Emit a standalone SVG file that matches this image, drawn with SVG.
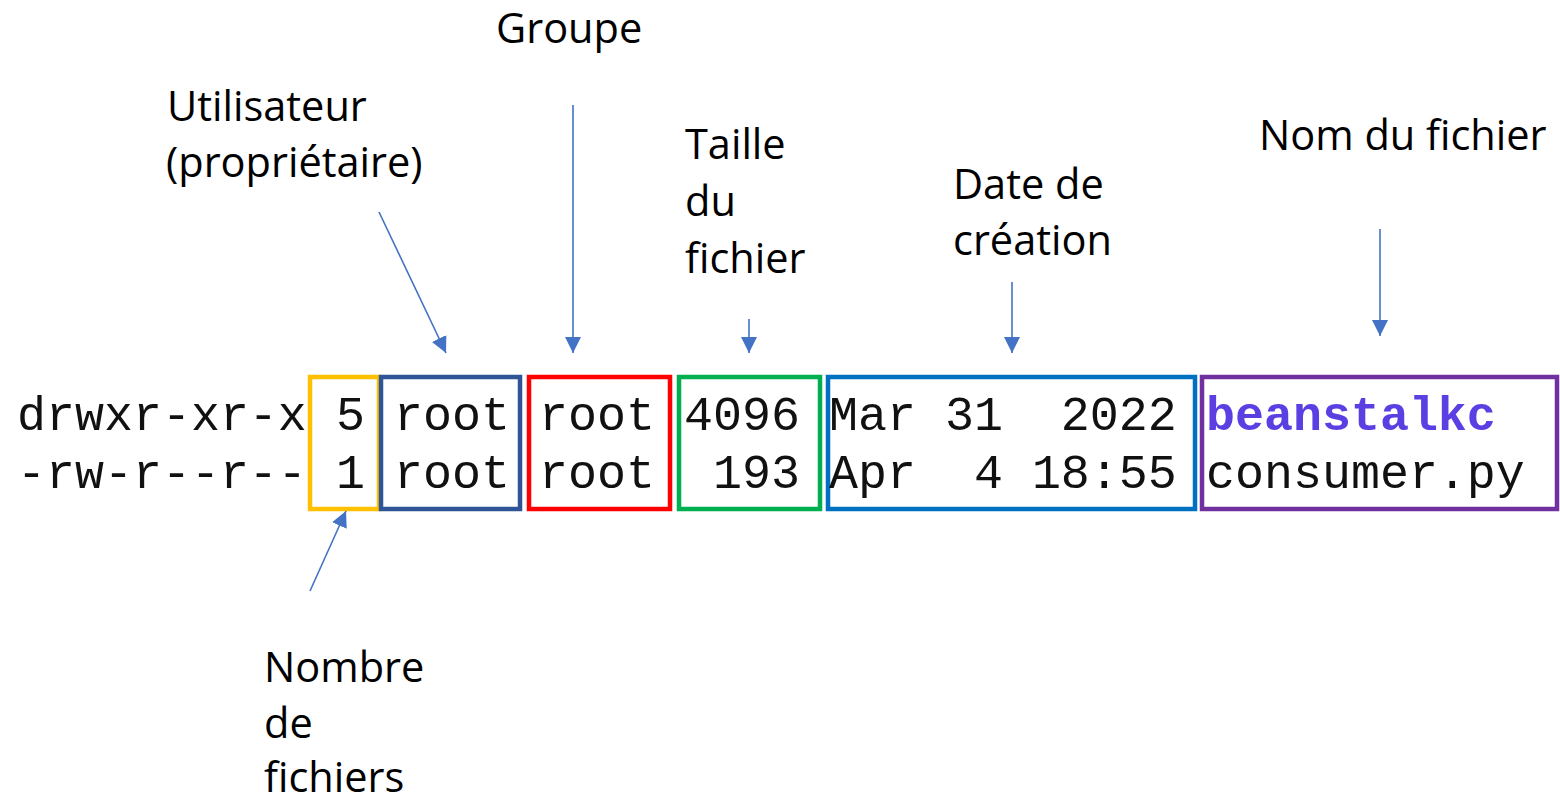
<svg xmlns="http://www.w3.org/2000/svg" width="1560" height="802" viewBox="0 0 1560 802">
  <style>
    .mono { font-family: "Liberation Mono", "DejaVu Sans Mono", monospace; font-size: 48.3px; fill: #111; }
    .label { font-family: "Open Sans", "Noto Sans", sans-serif; font-size: 41.5px; fill: #000; }
    .box { fill: none; stroke-width: 4.5; }
    .conn { stroke: #4472C4; stroke-width: 1.6; fill: none; marker-end: url(#arrow); }
  </style>
  <defs>
    <marker id="arrow" viewBox="0 0 10 10" refX="10" refY="5" markerWidth="16" markerHeight="16" orient="auto" markerUnits="userSpaceOnUse">
      <path d="M0,0 L10,5 L0,10 z" fill="#4472C4"/>
    </marker>
  </defs>
  <rect width="1560" height="802" fill="#ffffff"/>

  <!-- permissions column (no frame) -->
  <g id="permissions">
    <text class="mono" x="17" y="430">drwxr-xr-x</text>
    <text class="mono" x="17" y="488">-rw-r--r--</text>
  </g>

  <!-- link count -->
  <g id="links">
    <rect class="box" x="310" y="377" width="69" height="132" stroke="#FFC000"/>
    <text class="mono" x="336" y="430">5</text>
    <text class="mono" x="336" y="488">1</text>
  </g>

  <!-- owner -->
  <g id="owner">
    <rect class="box" x="381" y="377" width="139" height="132" stroke="#2F5597"/>
    <text class="mono" x="394" y="430">root</text>
    <text class="mono" x="394" y="488">root</text>
  </g>

  <!-- group -->
  <g id="group">
    <rect class="box" x="529" y="377" width="141" height="132" stroke="#FF0000"/>
    <text class="mono" x="539" y="430">root</text>
    <text class="mono" x="539" y="488">root</text>
  </g>

  <!-- size -->
  <g id="size">
    <rect class="box" x="679" y="377" width="141" height="132" stroke="#00B050"/>
    <text class="mono" x="684" y="430">4096</text>
    <text class="mono" x="713" y="488">193</text>
  </g>

  <!-- date -->
  <g id="date">
    <rect class="box" x="828" y="377" width="367" height="132" stroke="#0070C0"/>
    <text class="mono" x="829" y="430" xml:space="preserve">Mar 31  2022</text>
    <text class="mono" x="829" y="488" xml:space="preserve">Apr  4 18:55</text>
  </g>

  <!-- file name -->
  <g id="filename">
    <rect class="box" x="1202" y="377" width="355" height="132" stroke="#7030A0"/>
    <text class="mono" x="1206" y="430" style="fill:#5B3FE3;font-weight:bold">beanstalkc</text>
    <text class="mono" x="1206" y="488">consumer.py</text>
  </g>

  <!-- captions -->
  <g id="label-groupe">
    <text class="label" x="496" y="43">Groupe</text>
  </g>
  <g id="label-utilisateur">
    <text class="label" x="167" y="121">Utilisateur</text>
    <text class="label" x="166" y="177">(propriétaire)</text>
  </g>
  <g id="label-taille">
    <text class="label" x="685" y="159">Taille</text>
    <text class="label" x="685" y="216">du</text>
    <text class="label" x="685" y="273">fichier</text>
  </g>
  <g id="label-date">
    <text class="label" x="953" y="199">Date de</text>
    <text class="label" x="953" y="255">création</text>
  </g>
  <g id="label-nom">
    <text class="label" x="1259" y="150">Nom du fichier</text>
  </g>
  <g id="label-nombre">
    <text class="label" x="264" y="682">Nombre</text>
    <text class="label" x="264" y="738">de</text>
    <text class="label" x="264" y="792">fichiers</text>
  </g>

  <!-- connectors -->
  <g id="connectors">
    <line class="conn" x1="379" y1="212" x2="446" y2="353"/>
    <line class="conn" x1="573" y1="105" x2="573" y2="353"/>
    <line class="conn" x1="749" y1="319" x2="749" y2="353"/>
    <line class="conn" x1="1012" y1="282" x2="1012" y2="353"/>
    <line class="conn" x1="1380" y1="229" x2="1380" y2="336"/>
    <line class="conn" x1="310" y1="591" x2="346" y2="511"/>
  </g>
</svg>
